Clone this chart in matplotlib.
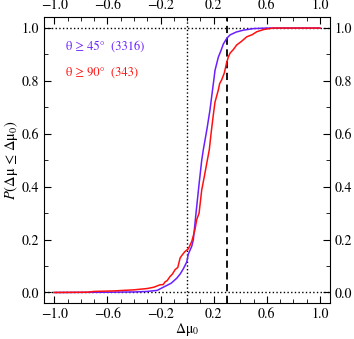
import matplotlib
matplotlib.use("Agg")
import matplotlib.pyplot as plt
from matplotlib.ticker import MultipleLocator, FixedLocator

plt.rcParams['font.family'] = ['STIXGeneral', 'DejaVu Serif']
plt.rcParams['mathtext.fontset'] = 'stix'

# CDF, theta >= 45 deg (3316)
blue_x = [-1.0, -0.6, -0.4, -0.3, -0.225, -0.179, -0.12, -0.078, -0.052, -0.028, -0.003,
          0.009, 0.035, 0.047, 0.067, 0.09, 0.11, 0.122, 0.15, 0.172, 0.2, 0.21, 0.235,
          0.255, 0.273, 0.3, 0.323, 0.37, 0.423, 0.5, 0.6, 1.0]
blue_y = [0.0, 0.001, 0.002, 0.004, 0.008, 0.02, 0.035, 0.054, 0.07, 0.09, 0.115,
          0.145, 0.175, 0.2, 0.3, 0.41, 0.5, 0.54, 0.62, 0.69, 0.8, 0.84, 0.89,
          0.915, 0.94, 0.962, 0.974, 0.985, 0.992, 0.998, 1.0, 1.0]

# CDF, theta >= 90 deg (343)
red_x = [-1.0, -0.75, -0.7, -0.55, -0.4, -0.3, -0.25, -0.204, -0.18, -0.166, -0.15, -0.129,
         -0.11, -0.091, -0.07, -0.053, -0.04, -0.016, 0.009, 0.035, 0.047, 0.06, 0.072,
         0.09, 0.11, 0.13, 0.148, 0.167, 0.18, 0.197, 0.21, 0.235, 0.245, 0.26, 0.28,
         0.298, 0.31, 0.323, 0.35, 0.373, 0.41, 0.449, 0.49, 0.524, 0.58, 0.65, 1.0]
red_y = [0.0, 0.001, 0.004, 0.006, 0.01, 0.015, 0.02, 0.029, 0.03, 0.04, 0.045, 0.06,
         0.07, 0.086, 0.095, 0.13, 0.14, 0.155, 0.165, 0.193, 0.215, 0.24, 0.275,
         0.3, 0.388, 0.44, 0.489, 0.54, 0.6, 0.671, 0.72, 0.766, 0.79, 0.804, 0.83,
         0.87, 0.89, 0.905, 0.92, 0.936, 0.95, 0.967, 0.975, 0.986, 0.995, 1.0, 1.0]

labels = [r'θ ≥ 45°  (3316)', r'θ ≥ 90°  (343)']
colors = ['#6a1fff', '#ff1010']
dmu_cut = 0.3
xticks = [-1.0, -0.6, -0.2, 0.2, 0.6, 1.0]
yticks = [0.0, 0.2, 0.4, 0.6, 0.8, 1.0]

fig = plt.figure(figsize=(3.54, 3.39), dpi=100)
ax = fig.add_axes([0.124, 0.106, 0.808, 0.844])

ax.axhline(0, color='k', ls=':', lw=1)
ax.axhline(1, color='k', ls=':', lw=1)
ax.axvline(0, color='k', ls=':', lw=1)
ax.axvline(dmu_cut, color='k', ls=(0, (4, 2.5)), lw=1.3)

ax.plot(blue_x, blue_y, color=colors[0], lw=1.1)
ax.plot(red_x, red_y, color=colors[1], lw=1.1)

ax.text(-0.91, 0.93, labels[0], color=colors[0], fontsize=9, va='center')
ax.text(-0.91, 0.83, labels[1], color=colors[1], fontsize=9, va='center')

ax.set_xlim(-1.078, 1.075)
ax.set_ylim(-0.04, 1.042)
ax.xaxis.set_major_locator(FixedLocator(xticks))
ax.xaxis.set_minor_locator(MultipleLocator(0.1))
ax.yaxis.set_major_locator(FixedLocator(yticks))
ax.yaxis.set_minor_locator(MultipleLocator(0.1))
ax.tick_params(which='both', direction='in', top=True, right=True,
               labeltop=True, labelright=True, labelsize=10)
ax.tick_params(which='major', length=5)
ax.tick_params(which='minor', length=3)
ax.set_xticklabels(['−%.1f' % -v if v < 0 else '%.1f' % v for v in xticks])
ax.set_yticklabels(['%.1f' % v for v in yticks])

ax.set_xlabel(r'Δμ$_0$', fontsize=10, labelpad=0)
ax.set_ylabel(r'$P$(Δμ ≤ Δμ$_0$)', fontsize=10.5, labelpad=1)

fig.savefig('out.png', dpi=100)
